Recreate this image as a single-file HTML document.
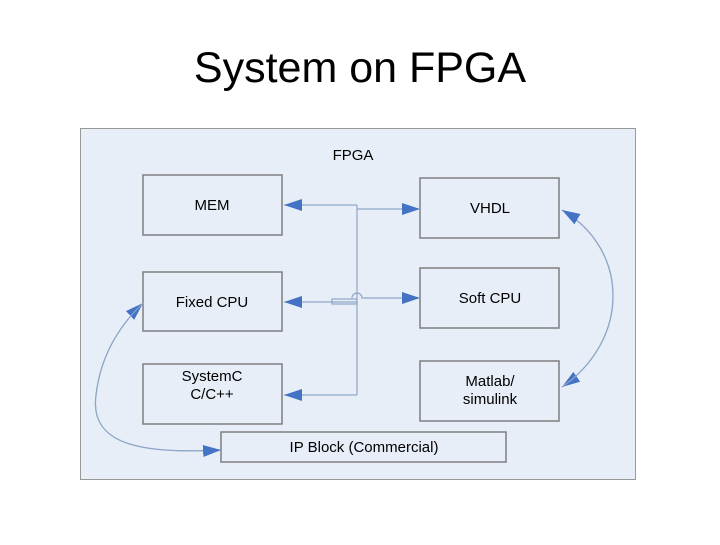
<!DOCTYPE html>
<html><head><style>
body{margin:0;width:720px;height:540px;background:#fff;overflow:hidden;font-family:"Liberation Sans",sans-serif}
</style></head><body>
<svg width="720" height="540" xmlns="http://www.w3.org/2000/svg" font-family="Liberation Sans, sans-serif">
<defs>
<marker id="b" markerWidth="18" markerHeight="12" refX="18" refY="6" orient="auto" markerUnits="userSpaceOnUse" viewBox="0 0 18 12"><path d="M0,0 L18,6 L0,12 z" fill="#4472c4"/></marker>
</defs>
<text x="360" y="82" font-size="43" text-anchor="middle" fill="#000">System on FPGA</text>
<rect x="80.5" y="128.5" width="555" height="351" fill="#e8eef8" stroke="#999"/>
<text x="353" y="160" font-size="15" text-anchor="middle">FPGA</text>
<g fill="#e8eef8" stroke="#7f7f7f" stroke-width="1.5">
<rect x="143" y="175" width="139" height="60"/>
<rect x="420" y="178" width="139" height="60"/>
<rect x="143" y="272" width="139" height="59"/>
<rect x="420" y="268" width="139" height="60"/>
<rect x="143" y="364" width="139" height="60"/>
<rect x="420" y="361" width="139" height="60"/>
<rect x="221" y="432" width="285" height="30"/>
</g>
<g font-size="15" text-anchor="middle" fill="#000">
<text x="212" y="210">MEM</text>
<text x="490" y="213">VHDL</text>
<text x="212" y="307">Fixed CPU</text>
<text x="490" y="303">Soft CPU</text>
<text x="212" y="381">SystemC</text>
<text x="212" y="399">C/C++</text>
<text x="490" y="386">Matlab/</text>
<text x="490" y="404">simulink</text>
<text x="364" y="452">IP Block (Commercial)</text>
</g>
<g stroke="#8fa6c8" stroke-width="1.2" fill="none">
<path d="M357,205 V395"/>
<path d="M357,205 H284" marker-end="url(#b)"/>
<path d="M357,209 H420" marker-end="url(#b)"/>
<path d="M357,302 H284" marker-end="url(#b)"/>
<path d="M352,298 a5,5 0 0 1 10,0 H420" marker-end="url(#b)"/>
<rect x="332" y="299" width="25" height="5"/>
<path d="M357,395 H284" marker-end="url(#b)"/>
<path d="M562,210 C630,250 630,340 562,387" marker-end="url(#b)"/>
<path d="M562,387 C630,340 630,250 562,210" marker-end="url(#b)"/>
<path d="M221,450 C130,455 90,440 96,395 C100,360 115,330 143,303" marker-end="url(#b)"/>
<path d="M143,303 C115,330 100,360 96,395 C90,440 130,455 221,450" marker-end="url(#b)"/>
</g>
</svg>
</body></html>
